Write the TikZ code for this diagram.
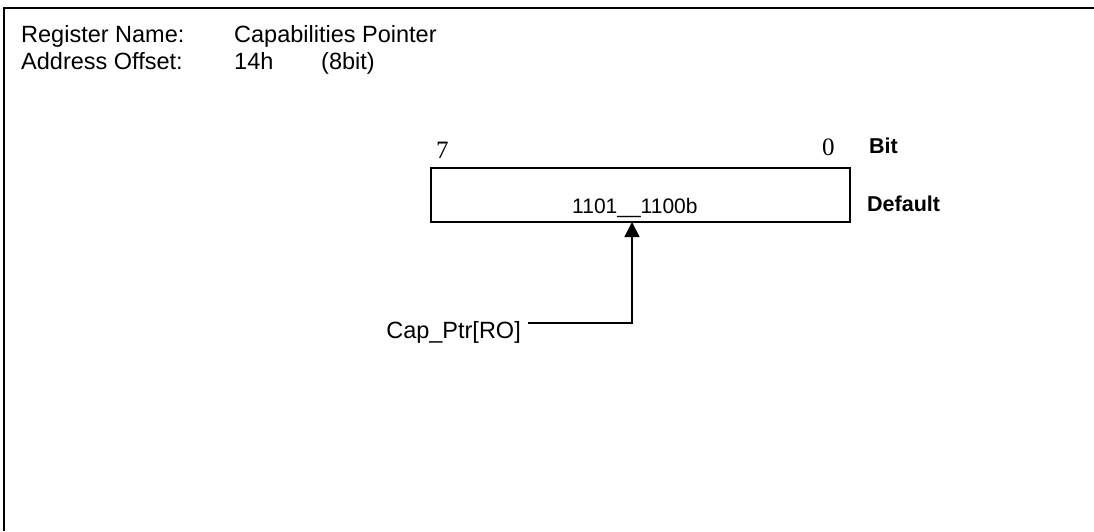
\documentclass[tikz,border=0pt]{standalone}
\usepackage{fontspec}
\setmainfont{Liberation Sans}
\newfontfamily\serifdig{Liberation Serif}
\usetikzlibrary{arrows.meta}
\tikzset{
  lbl/.style={inner sep=0pt, anchor=base west, font=\fontsize{23.5}{26}\selectfont},
  vlbl/.style={inner sep=0pt, anchor=base west, font=\fontsize{21}{24}\selectfont},
  blbl/.style={inner sep=0pt, anchor=base west, font=\fontsize{21.5}{24}\selectfont\bfseries},
  bitnum/.style={inner sep=0pt, anchor=base west, font=\fontsize{25}{28}\selectfont\serifdig},
  regbox/.style={draw, line width=1.6pt, minimum width=419pt, minimum height=54pt, inner sep=0pt},
  frame/.style={line width=1.8pt},
  conn/.style={line width=1.6pt},
}
\begin{document}
\begin{tikzpicture}[x=1pt,y=-1pt]
\useasboundingbox (0,0) rectangle (1094,531);
\draw[frame] (1094,8) -- (4,8) -- (4,531);
\node[lbl] (rn) at (21,42) {Register Name:};
\node[lbl] (rv) at (234,42) {Capabilities Pointer};
\node[lbl] (ao) at (21,69) {Address Offset:};
\node[lbl] (av) at (234,69) {14h};
\node[lbl] (aw) at (321,69) {(8bit)};
\node[bitnum] (b7) at (436,158) {7};
\node[bitnum] (b0) at (822,155) {0};
\node[blbl] (bit) at (869,153) {Bit};
\node[regbox] (reg) at (640.5,195) {};
\node[vlbl] (def) at (572,213) {1101\_\_1100b};
\node[blbl] (dl) at (867,211) {Default};
\coordinate (tap) at (632,222);
\coordinate (corner) at (632,323);
\node[inner ysep=0pt, inner xsep=0pt, anchor=base east, font=\fontsize{23.5}{26}\selectfont] (cap) at (521,338) {Cap\_Ptr[RO]};
\draw[conn,-{Triangle[width=15pt,length=15pt]}] ([xshift=7pt]cap.east |- corner) -- (corner) -- (tap);
\end{tikzpicture}
\end{document}
